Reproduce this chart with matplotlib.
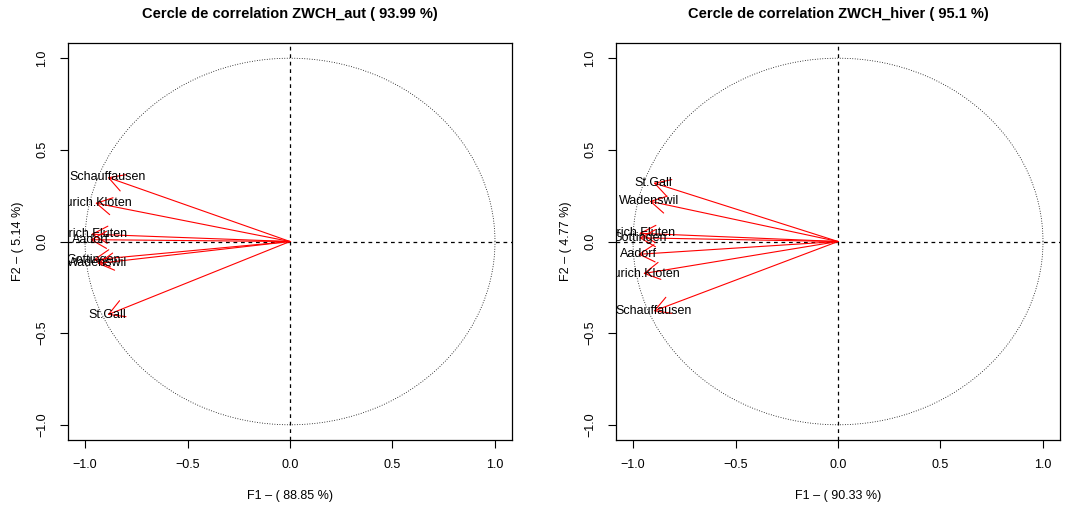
import numpy as np
from matplotlib import pyplot as plt

plt.rcParams['font.family'] = ['Liberation Sans', 'DejaVu Sans']

# left panel: autumn
aut_names = ['Schauffausen', 'Zurich.Kloten', 'Zurich.Fluten', 'Aadorf',
             'Gottingen', 'Wadenswil', 'St.Gall']
aut_f1 = [-0.89, -0.95, -0.97, -0.975, -0.96, -0.94, -0.89]
aut_f2 = [0.35, 0.21, 0.04, 0.01, -0.10, -0.12, -0.40]

# right panel: winter
hiv_names = ['St.Gall', 'Wadenswil', 'Zurich.Fluten', 'Gottingen',
             'Aadorf', 'Zurich.Kloten', 'Schauffausen']
hiv_f1 = [-0.90, -0.92, -0.97, -0.97, -0.975, -0.95, -0.90]
hiv_f2 = [0.32, 0.22, 0.045, 0.02, -0.07, -0.175, -0.38]

titles = ['Cercle de correlation ZWCH_aut ( 93.99 %)',
          'Cercle de correlation ZWCH_hiver ( 95.1 %)']
xlabels = ['F1 \u2013 ( 88.85 %)', 'F1 \u2013 ( 90.33 %)']
ylabels = ['F2 \u2013 ( 5.14 %)', 'F2 \u2013 ( 4.77 %)']

W, H = 1065, 517
fig = plt.figure(figsize=(W / 100, H / 100), dpi=100)
boxes = [(68, 43, 512, 440), (616, 43, 1060, 440)]

panels = [(aut_names, aut_f1, aut_f2), (hiv_names, hiv_f1, hiv_f2)]
t = np.linspace(0, 2 * np.pi, 400)

for i, (names, xs, ys) in enumerate(panels):
    l, top, r, b = boxes[i]
    ax = fig.add_axes([l / W, (H - b) / H, (r - l) / W, (b - top) / H])
    ax.set_xlim(-1.083, 1.083)
    ax.set_ylim(-1.083, 1.083)
    ax.plot(np.cos(t), np.sin(t), color='black', linestyle=(0, (1, 2)), linewidth=0.6)
    ax.axhline(0, color='black', linestyle=(0, (3, 3)), linewidth=0.9)
    ax.axvline(0, color='black', linestyle=(0, (3, 3)), linewidth=0.9)
    for name, x, y in zip(names, xs, ys):
        ax.annotate('', xy=(x, y), xytext=(0, 0),
                    arrowprops=dict(arrowstyle='->,head_length=1.1,head_width=0.62',
                                    color='red', linewidth=0.8,
                                    shrinkA=0, shrinkB=0, mutation_scale=10))
        ax.text(x, y, name, ha='center', va='center', fontsize=9, clip_on=True)
    ax.set_xticks([-1.0, -0.5, 0.0, 0.5, 1.0])
    ax.set_yticks([-1.0, -0.5, 0.0, 0.5, 1.0])
    ax.set_xticklabels(['\u22121.0', '\u22120.5', '0.0', '0.5', '1.0'], fontsize=9)
    ax.set_yticklabels(['\u22121.0', '\u22120.5', '0.0', '0.5', '1.0'], fontsize=9,
                       rotation=90, va='center')
    ax.tick_params(direction='out', length=6, width=0.8, pad=8)
    for s in ax.spines.values():
        s.set_linewidth(0.9)
    ax.set_title(titles[i], fontsize=10.5, fontweight='bold', pad=18)
    ax.set_xlabel(xlabels[i], fontsize=9, labelpad=13)
    ax.set_ylabel(ylabels[i], fontsize=9, labelpad=9)

fig.savefig('out.png', dpi=100)
